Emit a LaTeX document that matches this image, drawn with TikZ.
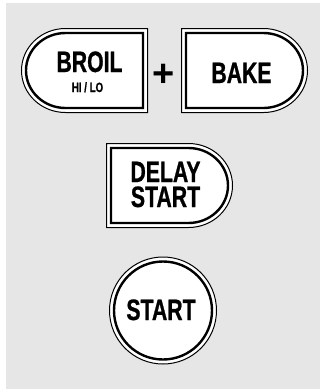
\documentclass[tikz,border=0pt]{standalone}
\usepackage{fontspec}
\newfontfamily\btnfont{Liberation Sans}[FakeStretch=0.72,FakeBold=0.8]
\newfontfamily\plusfont{Liberation Sans}
\definecolor{panelgrey}{HTML}{E6E6E6}
\tikzset{
  outerline/.style={draw=black,line width=1pt,fill=white},
  innerline/.style={draw=black,line width=2.4pt},
  bigtxt/.style={inner sep=0pt,anchor=base,text height=20pt,text depth=0pt,font=\btnfont\bfseries\fontsize{29.5}{29.5}\selectfont},
  smalltxt/.style={inner sep=0pt,anchor=base,text height=9.5pt,text depth=0pt,font=\btnfont\bfseries\fontsize{13.5}{13.5}\selectfont},
}
\begin{document}
\begin{tikzpicture}[x=1pt,y=-1pt]
\useasboundingbox (0,0) rectangle (320,389);
\fill[panelgrey] (6,3) rectangle (320,389);
% BROIL button
\draw[outerline] (147.5,28.5) -- (65.5,28.5) arc[start angle=-90,end angle=-270,x radius=44,y radius=42] -- (147.5,112.5) -- cycle;
\draw[innerline] (143,33) -- (65.5,33) arc[start angle=-90,end angle=-270,x radius=39.5,y radius=37.5] -- (143,108) -- cycle;
\node[bigtxt] (broil) at (89.5,72) {BROIL};
\node[smalltxt] (hilo) at (87.5,92) {HI / LO};
% plus
\node[inner sep=0pt,anchor=base,font=\plusfont\bfseries\fontsize{38}{38}\selectfont] (plus) at (164,86) {+};
% BAKE button
\draw[outerline] (181.5,28.5) -- (263.5,28.5) arc[start angle=-90,end angle=90,x radius=44,y radius=42] -- (181.5,112.5) -- cycle;
\draw[innerline] (186,33) -- (263.5,33) arc[start angle=-90,end angle=90,x radius=39.5,y radius=37.5] -- (186,108) -- cycle;
\node[bigtxt] (bake) at (241.5,83) {BAKE};
% DELAY START button
\draw[outerline] (106.5,143.5) -- (188.5,143.5) arc[start angle=-90,end angle=90,x radius=44,y radius=42] -- (106.5,227.5) -- cycle;
\draw[innerline] (111,148) -- (188.5,148) arc[start angle=-90,end angle=90,x radius=39.5,y radius=37.5] -- (111,223) -- cycle;
\node[bigtxt] (delay) at (165.5,182) {DELAY};
\node[bigtxt] (dstart) at (165.5,207) {START};
% START button
\draw[outerline] (163,310.5) circle[radius=53.5];
\draw[innerline] (163,310.5) circle[radius=49];
\node[bigtxt] (start) at (161,320) {START};
\end{tikzpicture}
\end{document}
